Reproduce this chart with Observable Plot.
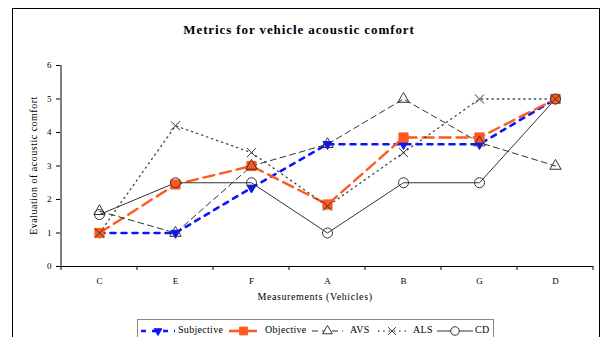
<!DOCTYPE html>
<html><head><meta charset="utf-8">
<script src="https://cdn.jsdelivr.net/npm/d3@7"></script>
<script src="https://cdn.jsdelivr.net/npm/@observablehq/plot@0.6"></script>
<style>body{margin:0;background:#fff} svg{display:block}</style>
</head><body><div id="chart"></div>
<script>
const categories = ["C","E","F","A","B","G","D"];
const subjective = [1, 1, 2.35, 3.65, 3.65, 3.65, 5];
const objective  = [1, 2.45, 3, 1.85, 3.85, 3.85, 5];
const avs        = [1.65, 1, 3, 3.65, 5, 3.7, 3];
const als        = [1, 4.2, 3.4, 1.8, 3.4, 5, 5];
const cd         = [1.55, 2.5, 2.5, 1, 2.5, 2.5, 5];
const seriesNames = ["Subjective", "Objective", "AVS", "ALS", "CD"];
const yTicks = [0, 1, 2, 3, 4, 5, 6];
const titleText = "Metrics for vehicle acoustic comfort";
const xTitle = "Measurements (Vehicles)";
const yTitle = "Evaluation of acoustic comfort";

const values = [subjective, objective, avs, als, cd];
const rows = [];
seriesNames.forEach((s, i) => categories.forEach((c, j) => rows.push({series: s, cat: c, value: values[i][j]})));

const styles = {
  Subjective: {stroke: "#0a14ff", width: 2.6, dash: "5,6", symbol: "triangle", rotate: 180, fill: "#0a14ff", mstroke: "#0a14ff", r: 3.4},
  Objective:  {stroke: "#ff5a1e", width: 2.4, dash: "11,6", symbol: "square", rotate: 0, fill: "#ff5a1e", mstroke: "#ff5a1e", r: 5.2},
  AVS:        {stroke: "#333333", width: 1, dash: "6,4", symbol: "triangle", rotate: 0, fill: "none", mstroke: "#333333", r: 4.2},
  ALS:        {stroke: "#444444", width: 1.3, dash: "1.3,4", symbol: "times", rotate: 0, fill: "none", mstroke: "#333333", r: 4.2},
  CD:         {stroke: "#333333", width: 1, dash: null, symbol: "circle", rotate: 0, fill: "none", mstroke: "#333333", r: 5}
};

const marks = [];
for (const s of seriesNames) {
  const st = styles[s];
  const d = rows.filter(r => r.series === s);
  marks.push(Plot.line(d, {x: "cat", y: "value", stroke: st.stroke, strokeWidth: st.width, strokeDasharray: st.dash, curve: "linear"}));
}
for (const s of seriesNames) {
  const st = styles[s];
  const d = rows.filter(r => r.series === s);
  marks.push(Plot.dot(d, {x: "cat", y: "value", symbol: () => st.symbol, r: st.r, fill: st.fill, stroke: st.mstroke, strokeWidth: 1, rotate: st.rotate}));
}

const chart = Plot.plot({
  width: 604, height: 337,
  marginLeft: 60, marginRight: 11, marginTop: 65, marginBottom: 71,
  style: {fontFamily: "Liberation Serif, serif", fontSize: "9px", background: "#fff", color: "#000"},
  x: {type: "point", domain: categories, padding: 0.5, label: null},
  y: {domain: [0, 6], label: null},
  marks: [
    Plot.axisX({tickSize: 0, tickPadding: 11, fontSize: 9, label: null}),
    Plot.axisY({ticks: yTicks, tickFormat: d3.format("d"), tickSize: 4, tickPadding: 5, fontSize: 9, label: null}),
    Plot.ruleY([0], {stroke: "#000", strokeWidth: 1}),
    ...marks
  ]
});
document.getElementById("chart").appendChild(chart);

const svg = d3.select(chart);
const xs = chart.scale("x"), ys = chart.scale("y");
const cx = categories.map(c => xs.apply(c));
const step = cx[1] - cx[0];
const y0 = ys.apply(0), y6 = ys.apply(6);
const left = cx[0] - step / 2, right = cx[cx.length - 1] + step / 2;
const g = svg.append("g");
g.append("line").attr("x1", left).attr("x2", left).attr("y1", y6).attr("y2", y0 + 0.5).attr("stroke", "#000");
for (let i = 0; i <= categories.length; i++) {
  const x = left + i * step;
  g.append("line").attr("x1", x).attr("x2", x).attr("y1", y0).attr("y2", y0 + 4).attr("stroke", "#000");
}
g.append("rect").attr("x", 12.5).attr("y", 8.5).attr("width", 587).attr("height", 340).attr("fill", "none").attr("stroke", "#000");
g.append("text").attr("x", 299).attr("y", 31).attr("text-anchor", "middle").attr("dominant-baseline", "middle")
  .attr("font-family", "Liberation Serif, serif").attr("font-weight", "bold").attr("font-size", 13).attr("letter-spacing", 0.9).text(titleText);
g.append("text").attr("x", (left + right) / 2 - 12).attr("y", 298).attr("text-anchor", "middle").attr("dominant-baseline", "middle")
  .attr("font-family", "Liberation Serif, serif").attr("font-size", 10).attr("letter-spacing", 0.6).text(xTitle);
g.append("text").attr("transform", `translate(35,${(y0 + y6) / 2}) rotate(-90)`).attr("text-anchor", "middle").attr("dominant-baseline", "middle")
  .attr("font-family", "Liberation Serif, serif").attr("font-size", 10).attr("letter-spacing", 0.5).text(yTitle);

const lg = svg.append("g");
lg.append("rect").attr("x", 137.5).attr("y", 319.5).attr("width", 356).attr("height", 30).attr("fill", "#fff").attr("stroke", "#888");
const items = [
  {s: "Subjective", x0: 141, x1: 175, tx: 178},
  {s: "Objective", x0: 229, x1: 258, tx: 265},
  {s: "AVS", x0: 312, x1: 343, tx: 350},
  {s: "ALS", x0: 378, x1: 406, tx: 413},
  {s: "CD", x0: 437, x1: 473, tx: 475}
];
const ly = 331;
const symMap = {triangle: d3.symbolTriangle, square: d3.symbolSquare, times: d3.symbolTimes, circle: d3.symbolCircle};
for (const it of items) {
  const st = styles[it.s];
  lg.append("line").attr("x1", it.x0).attr("x2", it.x1).attr("y1", ly).attr("y2", ly)
    .attr("stroke", st.stroke).attr("stroke-width", st.width).attr("stroke-dasharray", st.dash);
  const legR = st.r * 0.85;
  lg.append("path").attr("d", d3.symbol(symMap[st.symbol], Math.PI * legR * legR)())
    .attr("transform", `translate(${(it.x0 + it.x1) / 2},${ly}) rotate(${st.rotate})`)
    .attr("fill", st.fill === "none" ? "#fff" : st.fill).attr("stroke", st.mstroke);
  lg.append("text").attr("x", it.tx).attr("y", ly).attr("text-anchor", "start").attr("dominant-baseline", "middle")
    .attr("font-family", "Liberation Serif, serif").attr("font-size", 10).attr("letter-spacing", 0.3).text(it.s);
}
</script></body></html>
